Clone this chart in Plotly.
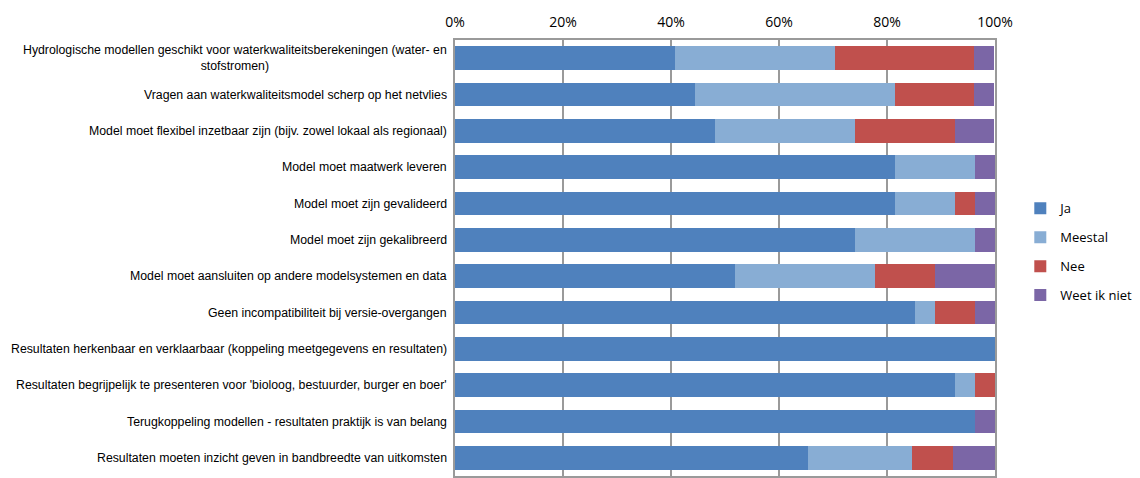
import plotly.graph_objects as go

# survey answers, percentage of respondents per statement
categories = [
    "Hydrologische modellen geschikt voor waterkwaliteitsberekeningen (water- en<br>stofstromen)",
    "Vragen aan waterkwaliteitsmodel scherp op het netvlies",
    "Model moet flexibel inzetbaar zijn (bijv. zowel lokaal als regionaal)",
    "Model moet maatwerk leveren",
    "Model moet zijn gevalideerd",
    "Model moet zijn gekalibreerd",
    "Model moet aansluiten op andere modelsystemen en data",
    "Geen incompatibiliteit bij versie-overgangen",
    "Resultaten herkenbaar en verklaarbaar (koppeling meetgegevens en resultaten)",
    "Resultaten begrijpelijk te presenteren voor 'bioloog, bestuurder, burger en boer'",
    "Terugkoppeling modellen - resultaten praktijk is van belang",
    "Resultaten moeten inzicht geven in bandbreedte van uitkomsten",
]
ja = [40.7, 44.4, 48.1, 81.5, 81.5, 74.1, 51.9, 85.2, 100.0, 92.6, 96.3, 65.4]
meestal = [29.6, 37.0, 25.9, 14.8, 11.1, 22.2, 25.9, 3.7, 0.0, 3.7, 0.0, 19.2]
nee = [25.9, 14.8, 18.5, 0.0, 3.7, 0.0, 11.1, 7.4, 0.0, 3.7, 0.0, 7.7]
weet_niet = [3.7, 3.7, 7.4, 3.7, 3.7, 3.7, 11.1, 3.7, 0.0, 0.0, 3.7, 7.7]

series = [
    ("Ja", ja, "#4F81BD"),
    ("Meestal", meestal, "#88ADD4"),
    ("Nee", nee, "#C0504D"),
    ("Weet ik niet", weet_niet, "#7B66A6"),
]

ids = list(range(len(categories)))

fig = go.Figure()
for name, vals, col in series:
    fig.add_trace(go.Bar(
        y=ids, x=vals, name=name, orientation="h",
        marker=dict(color=col, line=dict(width=0)),
        legendgroup=name,
    ))

# category labels as annotations so the wrapped one is centred
for i, label in zip(ids, categories):
    fig.add_annotation(
        x=0, xref="paper", y=i, yref="y", text=label,
        xanchor="right", yanchor="middle", align="center",
        xshift=-6, showarrow=False,
        font=dict(family="Liberation Sans, Arial", size=12.3, color="#000000"),
    )

fig.update_layout(
    width=1140, height=478,
    barmode="stack", bargap=0.34,
    margin=dict(l=455, r=145, t=40, b=0),
    plot_bgcolor="white", paper_bgcolor="white",
    showlegend=True,
    legend=dict(
        xref="container", yref="container",
        x=0.895, y=0.473, xanchor="left", yanchor="middle",
        traceorder="grouped", tracegroupgap=9,
        font=dict(family="Open Sans, Calibri, sans-serif", size=13, color="#000000"),
        itemwidth=30,
    ),
)
fig.update_xaxes(
    side="top", range=[0, 100], tickvals=[0, 20, 40, 60, 80, 100],
    ticktext=["0%", "20%", "40%", "60%", "80%", "100%"],
    showgrid=True, gridcolor="#9A9A9A", gridwidth=1.5,
    showline=True, linecolor="#9A9A9A", linewidth=1.5, mirror=True,
    zeroline=False, ticks="", ticklabelstandoff=6,
    tickfont=dict(family="Open Sans, Calibri, sans-serif", size=14, color="#000000"),
)
fig.update_yaxes(
    autorange="reversed", showticklabels=False, showgrid=False,
    showline=True, linecolor="#9A9A9A", linewidth=1.5, mirror=True,
    zeroline=False, ticks="",
)

# drop the default page margin so the chart sits at the window's corner
fig.write_html("out.html", config={"displayModeBar": False},
               post_script="document.body.style.margin='0';")
